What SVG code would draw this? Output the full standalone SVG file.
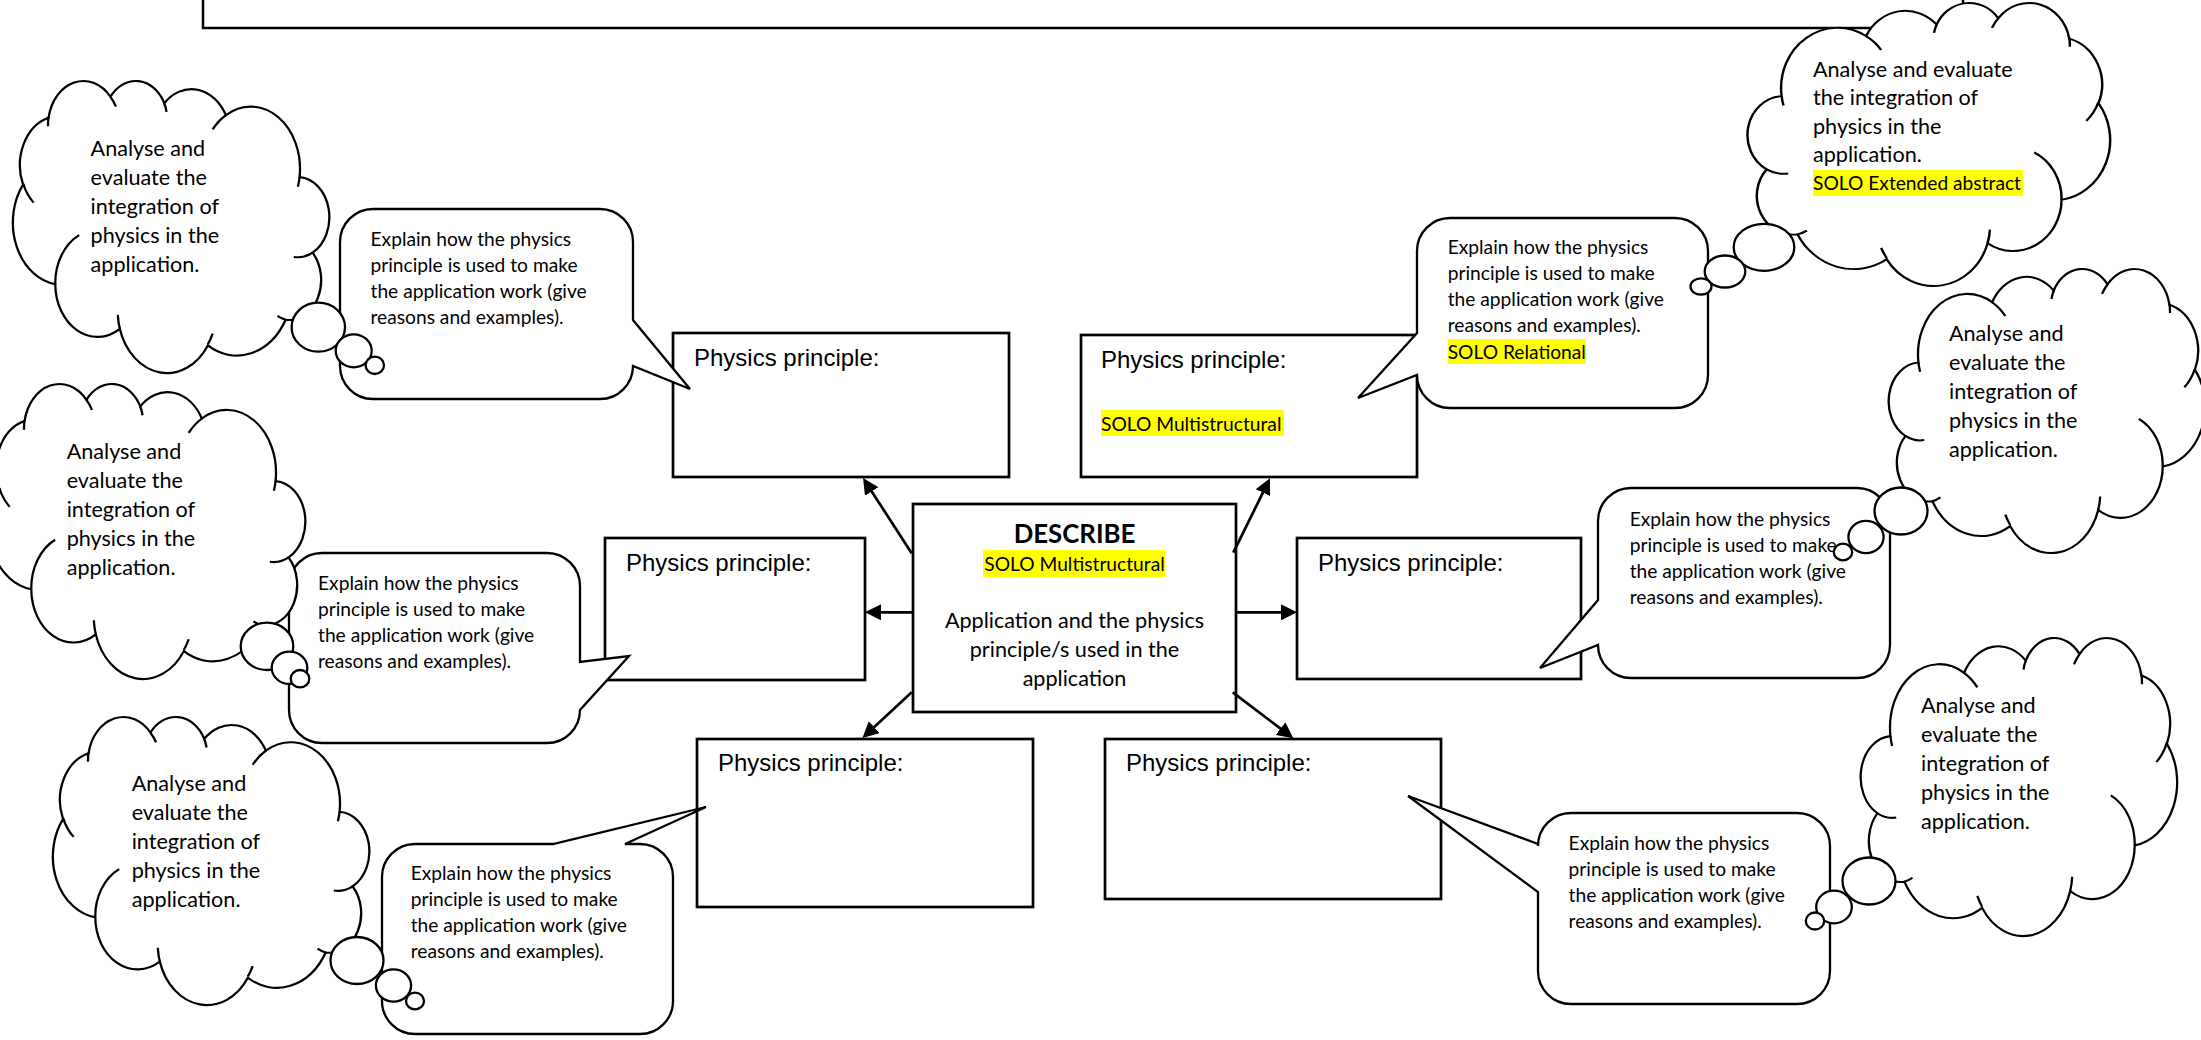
<svg xmlns="http://www.w3.org/2000/svg" width="2201" height="1040" viewBox="0 0 2201 1040">
<style>
.bx{fill:#fff;stroke:#000;stroke-width:2.7}
.bb{fill:#fff;stroke:#000;stroke-width:2.3;stroke-linejoin:miter}
.th{fill:#fff;stroke:#000;stroke-width:2.3}
.ar{stroke:#000;stroke-width:2.7;fill:none;marker-end:url(#ah)}
.t{font-family:Lato,'Liberation Sans',sans-serif;fill:#000}
.ct{font-size:21.6px}
.bt{font-size:19.2px}
.pp{font-family:'Liberation Sans',Arial,sans-serif;font-size:24px;fill:#000}
.hl{fill:#ff0}
</style>
<defs>
<marker id="ah" viewBox="0 0 16 16" refX="12" refY="8" markerWidth="16" markerHeight="16" markerUnits="userSpaceOnUse" orient="auto"><path d="M0,0 L16,8 L0,16 Z" fill="#000"/></marker>
<g id="cloud">
<path fill="#fff" stroke="#000" d="M3900 14370 A6753 9190 0 0 1 14005 5203 A5333 7267 0 0 1 22456 3434 A4365 5945 0 0 1 29834 2484 A4857 6595 0 0 1 38319 5579 A5333 7273 0 0 1 41819 15463 A6775 9220 0 0 1 37404 30204 A5785 7867 0 0 1 28555 36814 A6752 9215 0 0 1 16480 39266 A7720 10543 0 0 1 5805 35472 A4360 5918 0 0 1 2114 25550 A4345 5945 0 0 1 3900 14370 Z"/>
<path fill="none" stroke="#000" d="M4693 26177 A4345 5945 0 0 1 2114 25550 M6928 34899 A4360 5918 0 0 1 5805 35472 M16478 39090 A6752 9215 0 0 1 15812 37526 M28827 34751 A6752 9215 0 0 1 28555 36814 M34129 22954 A5785 7867 0 0 1 37404 30204 M41798 15354 A5333 7273 0 0 1 40371 18139 M38324 5426 A4857 6595 0 0 1 38395 6843 M29078 3952 A4857 6595 0 0 1 29834 2484 M22141 4720 A4365 5945 0 0 1 22456 3434 M14005 5203 A6753 9190 0 0 1 15816 7309 M4127 15789 A6753 9190 0 0 1 3900 14370"/>
</g>
</defs>
<rect width="2201" height="1040" fill="#fff"/>
<g id="top-frame"><rect class="bx" x="203" y="-10" width="1760" height="38" style="stroke-width:2.5"/></g>

<g id="center">
<rect class="bx" x="913" y="504" width="323" height="208"/>
<text class="t" x="1074.5" y="542.7" text-anchor="middle" font-weight="bold" font-size="25.8">DESCRIBE</text>
<rect class="hl" x="983" y="550" width="182" height="27"/>
<text class="t bt" x="1074.5" y="570.5" text-anchor="middle">SOLO Multistructural</text>
<text class="t ct" text-anchor="middle"><tspan x="1074.5" y="628">Application and the physics</tspan><tspan x="1074.5" y="657">principle/s used in the</tspan><tspan x="1074.5" y="685.5">application</tspan></text>
</g>
<g id="box-tl"><rect class="bx" x="673" y="333" width="336" height="144"/><text class="pp" x="694" y="366">Physics principle:</text></g>
<g id="box-tr"><rect class="bx" x="1081" y="335" width="336" height="142"/><text class="pp" x="1101" y="368">Physics principle:</text><rect class="hl" x="1101" y="410" width="183" height="26"/><text class="t bt" x="1101" y="430.5">SOLO Multistructural</text></g>
<g id="box-ml"><rect class="bx" x="605" y="538" width="260" height="142"/><text class="pp" x="626" y="571">Physics principle:</text></g>
<g id="box-mr"><rect class="bx" x="1297" y="538" width="284" height="141"/><text class="pp" x="1318" y="571">Physics principle:</text></g>
<g id="box-bl"><rect class="bx" x="697" y="739" width="336" height="168"/><text class="pp" x="718" y="771">Physics principle:</text></g>
<g id="box-br"><rect class="bx" x="1105" y="739" width="336" height="160"/><text class="pp" x="1126" y="771">Physics principle:</text></g>

<g id="connectors">
<path class="ar" d="M911.7,553.3 L865.2,481.4"/>
<path class="ar" d="M1233.3,552.7 L1268.2,481.9"/>
<path class="ar" d="M912,612.3 L869,612.3"/>
<path class="ar" d="M1236,612.3 L1293,612.3"/>
<path class="ar" d="M911.7,692.3 L865.4,735.3"/>
<path class="ar" d="M1232.7,692.3 L1290.1,735.9"/>
</g>

<g id="bubble-a"><path class="bb" d="M373,209 H600 A33,33 0 0 1 633,242 V320 L690,389 L633,366 A33,33 0 0 1 600,399 H373 A33,33 0 0 1 340,366 V242 A33,33 0 0 1 373,209 Z"/>
<text class="t bt"><tspan x="370.5" y="245.5">Explain how the physics</tspan><tspan x="370.5" y="271.5">principle is used to make</tspan><tspan x="370.5" y="297.5">the application work (give</tspan><tspan x="370.5" y="323.5">reasons and examples).</tspan></text></g>
<g id="bubble-b"><path class="bb" d="M322,553 H547 A33,33 0 0 1 580,586 V662 L629,656 L580,710 A33,33 0 0 1 547,743 H322 A33,33 0 0 1 289,710 V586 A33,33 0 0 1 322,553 Z"/>
<text class="t bt"><tspan x="318" y="590">Explain how the physics</tspan><tspan x="318" y="616">principle is used to make</tspan><tspan x="318" y="642">the application work (give</tspan><tspan x="318" y="668">reasons and examples).</tspan></text></g>
<g id="bubble-c"><path class="bb" d="M415,844 H553 L706,807 L625,844 H640 A33,33 0 0 1 673,877 V1001 A33,33 0 0 1 640,1034 H415 A33,33 0 0 1 382,1001 V877 A33,33 0 0 1 415,844 Z"/>
<text class="t bt"><tspan x="410.7" y="880">Explain how the physics</tspan><tspan x="410.7" y="906">principle is used to make</tspan><tspan x="410.7" y="932">the application work (give</tspan><tspan x="410.7" y="958">reasons and examples).</tspan></text></g>
<g id="bubble-tr"><path class="bb" d="M1450,218 H1675 A33,33 0 0 1 1708,251 V375 A33,33 0 0 1 1675,408 H1450 A33,33 0 0 1 1417,375 L1358,398 L1417,333 V251 A33,33 0 0 1 1450,218 Z"/>
<text class="t bt"><tspan x="1447.7" y="254">Explain how the physics</tspan><tspan x="1447.7" y="280">principle is used to make</tspan><tspan x="1447.7" y="306">the application work (give</tspan><tspan x="1447.7" y="332">reasons and examples).</tspan></text>
<rect class="hl" x="1447.7" y="339" width="138.3" height="25"/><text class="t bt" x="1447.7" y="358.5">SOLO Relational</text></g>
<g id="bubble-mr"><path class="bb" d="M1631,488 H1857 A33,33 0 0 1 1890,521 V645 A33,33 0 0 1 1857,678 H1631 A33,33 0 0 1 1598,645 L1540,668 L1598,600 V521 A33,33 0 0 1 1631,488 Z"/>
<text class="t bt"><tspan x="1629.7" y="525.5">Explain how the physics</tspan><tspan x="1629.7" y="551.5">principle is used to make</tspan><tspan x="1629.7" y="577.5">the application work (give</tspan><tspan x="1629.7" y="603.5">reasons and examples).</tspan></text></g>
<g id="bubble-br"><path class="bb" d="M1571,813 H1797 A33,33 0 0 1 1830,846 V971 A33,33 0 0 1 1797,1004 H1571 A33,33 0 0 1 1538,971 V892 L1408,796 L1538,844 V846 A33,33 0 0 1 1571,813 Z"/>
<text class="t bt"><tspan x="1568.6" y="850">Explain how the physics</tspan><tspan x="1568.6" y="876">principle is used to make</tspan><tspan x="1568.6" y="902">the application work (give</tspan><tspan x="1568.6" y="928">reasons and examples).</tspan></text></g>

<g id="cloud-a"><use href="#cloud" transform="translate(328,80) scale(-0.0072917,0.0067593)" style="stroke-width:313"/>
<ellipse class="th" cx="318.3" cy="327.2" rx="26.7" ry="24.5"/><ellipse class="th" cx="353.7" cy="350.8" rx="18" ry="16.5"/><ellipse class="th" cx="374.8" cy="365.3" rx="9.2" ry="8.7"/>
<text class="t ct"><tspan x="90.6" y="156">Analyse and</tspan><tspan x="90.6" y="185">evaluate the</tspan><tspan x="90.6" y="214">integration of</tspan><tspan x="90.6" y="243">physics in the</tspan><tspan x="90.6" y="272">application.</tspan></text></g>
<g id="cloud-b"><use href="#cloud" transform="translate(304,383) scale(-0.0072917,0.0068287)" style="stroke-width:312"/>
<ellipse class="th" cx="267" cy="646.3" rx="26.3" ry="23.7"/><ellipse class="th" cx="289.5" cy="667.8" rx="17.8" ry="16.2"/><ellipse class="th" cx="300" cy="678.7" rx="9.3" ry="8.7"/>
<text class="t ct"><tspan x="66.7" y="459">Analyse and</tspan><tspan x="66.7" y="488">evaluate the</tspan><tspan x="66.7" y="517">integration of</tspan><tspan x="66.7" y="546">physics in the</tspan><tspan x="66.7" y="575">application.</tspan></text></g>
<g id="cloud-c"><use href="#cloud" transform="translate(368,716) scale(-0.0072917,0.0066667)" style="stroke-width:315"/>
<ellipse class="th" cx="357" cy="960.5" rx="26.5" ry="23.5"/><ellipse class="th" cx="393.5" cy="985.5" rx="17.6" ry="16.2"/><ellipse class="th" cx="415" cy="1001" rx="9" ry="8.4"/>
<text class="t ct"><tspan x="131.7" y="791">Analyse and</tspan><tspan x="131.7" y="820">evaluate the</tspan><tspan x="131.7" y="849">integration of</tspan><tspan x="131.7" y="878">physics in the</tspan><tspan x="131.7" y="907">application.</tspan></text></g>
<g id="cloud-tr"><use href="#cloud" transform="translate(1749,2) scale(0.0083565,0.0065509)" style="stroke-width:295"/>
<ellipse class="th" cx="1764" cy="247.3" rx="30.3" ry="23.5"/><ellipse class="th" cx="1725" cy="271.5" rx="20.3" ry="16"/><ellipse class="th" cx="1701" cy="286.5" rx="10.5" ry="8.2"/>
<text class="t ct"><tspan x="1813" y="76.5">Analyse and evaluate</tspan><tspan x="1813" y="105">the integration of</tspan><tspan x="1813" y="133.5">physics in the</tspan><tspan x="1813" y="162">application.</tspan></text>
<rect class="hl" x="1813" y="170" width="210" height="26"/><text class="t bt" x="1813" y="190">SOLO Extended abstract</text></g>
<g id="cloud-mr"><use href="#cloud" transform="translate(1890,268) scale(0.0072917,0.0065741)" style="stroke-width:317"/>
<ellipse class="th" cx="1901" cy="511" rx="26.5" ry="23.5"/><ellipse class="th" cx="1866" cy="537" rx="17.6" ry="16.2"/><ellipse class="th" cx="1843" cy="552" rx="9.2" ry="8.4"/>
<text class="t ct"><tspan x="1949" y="341">Analyse and</tspan><tspan x="1949" y="370">evaluate the</tspan><tspan x="1949" y="399">integration of</tspan><tspan x="1949" y="428">physics in the</tspan><tspan x="1949" y="457">application.</tspan></text></g>
<g id="cloud-br"><use href="#cloud" transform="translate(1862,637) scale(0.0072917,0.0068981)" style="stroke-width:310"/>
<ellipse class="th" cx="1869" cy="881" rx="26.5" ry="23.5"/><ellipse class="th" cx="1834" cy="907" rx="17.8" ry="16.3"/><ellipse class="th" cx="1815" cy="921" rx="9.2" ry="8.5"/>
<text class="t ct"><tspan x="1921" y="713">Analyse and</tspan><tspan x="1921" y="742">evaluate the</tspan><tspan x="1921" y="771">integration of</tspan><tspan x="1921" y="800">physics in the</tspan><tspan x="1921" y="829">application.</tspan></text></g>
</svg>
